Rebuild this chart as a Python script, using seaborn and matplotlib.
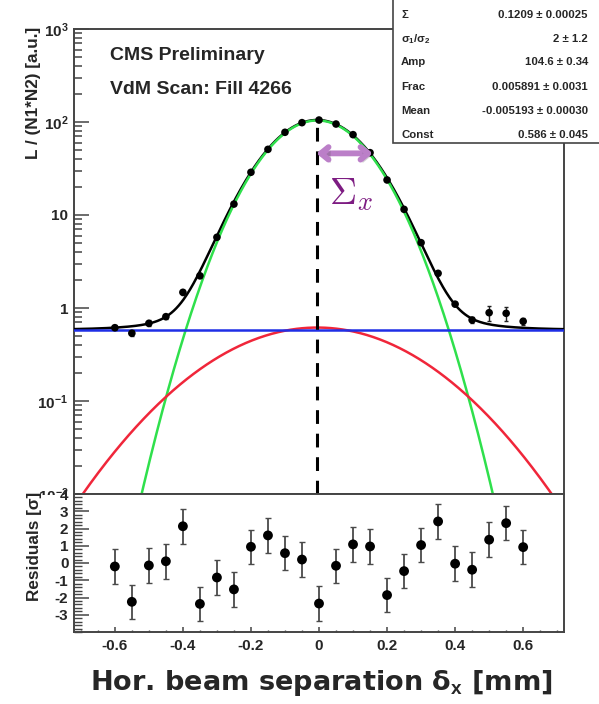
import numpy as np
import pandas as pd
import matplotlib
matplotlib.use("Agg")
import matplotlib.pyplot as plt
import seaborn as sns
from matplotlib.ticker import FixedLocator, FixedFormatter, NullFormatter, MultipleLocator, NullLocator
from matplotlib.patches import Rectangle
import matplotlib.patheffects as pe

# ---------------- data ----------------
separation = [-0.60, -0.55, -0.50, -0.45, -0.40, -0.35, -0.30, -0.25, -0.20, -0.15, -0.10, -0.05,
              0.00, 0.05, 0.10, 0.15, 0.20, 0.25, 0.30, 0.35, 0.40, 0.45, 0.50, 0.55, 0.60]
lumi = [0.614, 0.535, 0.684, 0.807, 1.475, 2.22, 5.76, 13.1, 28.8, 50.8, 77.5, 98.4,
        105.0, 95.1, 73.1, 46.8, 23.8, 11.5, 5.04, 2.36, 1.10, 0.743, 0.89, 0.877, 0.719]
lumi_err = [0.04, 0.04, 0.05, 0.05, 0.08, 0.10, 0.15, 0.25, 0.4, 0.6, 0.8, 0.9,
            1.0, 0.9, 0.8, 0.6, 0.4, 0.25, 0.15, 0.10, 0.06, 0.05, 0.16, 0.16, 0.06]
residual = [-0.20, -2.25, -0.14, 0.10, 2.13, -2.37, -0.84, -1.53, 0.94, 1.60, 0.57, 0.20,
            -2.35, -0.16, 1.08, 0.96, -1.86, -0.47, 1.04, 2.41, -0.04, -0.39, 1.35, 2.31, 0.92]
residual_err = [1.0, 1.0, 1.0, 1.0, 1.0, 1.0, 1.0, 1.0, 1.0, 1.0, 1.0, 1.0,
                1.0, 1.0, 1.0, 1.0, 1.0, 1.0, 1.0, 1.0, 1.0, 1.0, 1.0, 1.0, 1.0]

# fit result (stat box)
fit_names = ["Σ", "σ$_\\mathbf{1}$/σ$_\\mathbf{2}$", "Amp", "Frac", "Mean", "Const"]
fit_texts = ["0.1209 ± 0.00025", "2 ± 1.2", "104.6 ± 0.34", "0.005891 ± 0.0031",
             "-0.005193 ± 0.00030", "0.586 ± 0.045"]
fit_amp = 104.6
fit_frac = 0.005891
fit_mean = -0.005193
fit_const = 0.586
sigma_narrow = 0.1200
sigma_wide = 0.2400

y_ticks = [1e-2, 1e-1, 1, 10, 1e2, 1e3]
y_ticklabels = ["$\\mathbf{10^{-2}}$", "$\\mathbf{10^{-1}}$", "1", "10", "$\\mathbf{10^{2}}$", "$\\mathbf{10^{3}}$"]
x_ticks = [-0.6, -0.4, -0.2, 0, 0.2, 0.4, 0.6]
x_ticklabels = ["-0.6", "-0.4", "-0.2", "0", "0.2", "0.4", "0.6"]
r_ticks = [-3, -2, -1, 0, 1, 2, 3, 4]
r_ticklabels = ["-3", "-2", "-1", "0", "1", "2", "3", "4"]

# ---------------- style ----------------
sns.set_style("ticks")
plt.rcParams['font.family'] = ['Liberation Sans', 'DejaVu Sans']
plt.rcParams['font.weight'] = 'bold'
plt.rcParams['mathtext.fontset'] = 'custom'
plt.rcParams['mathtext.rm'] = 'Liberation Sans'
plt.rcParams['mathtext.bf'] = 'Liberation Sans:bold'
plt.rcParams['mathtext.it'] = 'Liberation Sans:italic'

W, H = 599, 704
def fx(px):
    return px / W
def fy(py):
    return 1 - py / H

fig = plt.figure(figsize=(W / 100, H / 100), dpi=100)
ax = fig.add_axes([fx(74), fy(494), fx(564) - fx(74), fy(29) - fy(494)])
axr = fig.add_axes([fx(74), fy(632), fx(564) - fx(74), fy(494) - fy(632)])

frame_col = "#444444"
for a in (ax, axr):
    for s in a.spines.values():
        s.set_color(frame_col)
        s.set_linewidth(1.4)

xmin, xmax = -0.72, 0.72

# ---------------- fit curves ----------------
xg = np.linspace(xmin, xmax, 600)
narrow = fit_amp * (1 - fit_frac) * np.exp(-(xg - fit_mean) ** 2 / (2 * sigma_narrow ** 2))
wide = fit_amp * fit_frac * np.exp(-(xg - fit_mean) ** 2 / (2 * sigma_wide ** 2))
const = np.full_like(xg, fit_const)
total = narrow + wide + const
curves = pd.DataFrame({"x": xg, "total": total, "narrow": narrow, "wide": wide, "const": const})

ax.set_yscale("log")
sns.lineplot(data=curves, x="x", y="total", ax=ax, color="black", lw=1.8, zorder=3)
sns.lineplot(data=curves, x="x", y="narrow", ax=ax, color="#2fe04c", lw=1.8, zorder=3)
sns.lineplot(data=curves, x="x", y="wide", ax=ax, color="#f0263a", lw=1.8, zorder=3)
sns.lineplot(data=curves, x="x", y="const", ax=ax, color="#1f2fe6", lw=1.8, zorder=3)

peak = fit_amp + fit_const
ax.plot([fit_mean, fit_mean], [1e-2, peak], color="black", lw=2.2, dashes=(4.5, 3.2), zorder=4)

# data points
df = pd.DataFrame({"sep": separation, "lumi": lumi, "err": lumi_err,
                   "res": residual, "rerr": residual_err})
ax.errorbar(df["sep"], df["lumi"], yerr=df["err"], fmt="none", ecolor="#222222",
            elinewidth=1.0, capsize=1.5, zorder=5)
sns.scatterplot(data=df, x="sep", y="lumi", ax=ax, color="black", s=30,
                edgecolor="none", zorder=6)

ax.set_xlim(xmin, xmax)
ax.set_ylim(1e-2, 1e3)
ax.set_xlabel("")
ax.set_ylabel("")
ax.yaxis.set_major_locator(FixedLocator(y_ticks))
ax.yaxis.set_major_formatter(FixedFormatter(y_ticklabels))
minor = [m * 10.0 ** k for k in range(-2, 3) for m in range(2, 10)]
ax.yaxis.set_minor_locator(FixedLocator(minor))
ax.yaxis.set_minor_formatter(NullFormatter())
ax.xaxis.set_major_locator(NullLocator())
ax.xaxis.set_minor_locator(NullLocator())
ax.tick_params(axis="y", which="major", direction="in", length=11, width=1.1,
               color=frame_col, labelsize=11, pad=4)
ax.tick_params(axis="y", which="minor", direction="in", length=5.5, width=1.1, color=frame_col)
ax.tick_params(axis="x", labelbottom=False)
for t in ax.get_yticklabels():
    t.set_fontweight("bold")

# Sigma_x annotation
ax.annotate("", xy=(0.158, 46), xytext=(-0.008, 46),
            arrowprops=dict(arrowstyle="<->, head_width=0.45, head_length=0.55",
                            color="#bb7fc8", lw=4.2, shrinkA=0, shrinkB=0,
                            path_effects=[pe.withSimplePatchShadow(offset=(1.5, -2.5), alpha=0.25)]),
            zorder=7)
ax.text(0.030, 16.4, r"$\Sigma_x$", color="#7d1c82", fontsize=27, math_fontfamily="cm",
        ha="left", va="center", zorder=7)

# text labels
fig.text(fx(110), fy(55), "CMS Preliminary", fontsize=14, fontweight="bold",
         ha="left", va="center")
fig.text(fx(110), fy(90), "VdM Scan: Fill 4266", fontsize=14, fontweight="bold",
         ha="left", va="center")
fig.text(fx(34), fy(27), "L / (N1*N2) [a.u.]", fontsize=12.3, fontweight="bold",
         rotation=90, ha="center", va="top")

# ---------------- residual panel ----------------
# white pad background hiding the lower part of the 10^-2 label
axr.add_patch(Rectangle((0, 0), fx(74), fy(495), transform=fig.transFigure,
                        facecolor="white", edgecolor="none", zorder=0.5, clip_on=False))
axr.errorbar(df["sep"], df["res"], yerr=df["rerr"], fmt="none", ecolor="#4a4a4a",
             elinewidth=1.3, capsize=2.2, capthick=1.0, zorder=3)
sns.scatterplot(data=df, x="sep", y="res", ax=axr, color="black", s=50,
                edgecolor="none", zorder=4)
axr.set_xlim(xmin, xmax)
axr.set_ylim(-4, 4)
axr.set_xlabel("")
axr.set_ylabel("")
axr.yaxis.set_major_locator(FixedLocator(r_ticks))
axr.yaxis.set_major_formatter(FixedFormatter(r_ticklabels))
axr.yaxis.set_minor_locator(MultipleLocator(0.2))
axr.xaxis.set_major_locator(FixedLocator(x_ticks))
axr.xaxis.set_major_formatter(FixedFormatter(x_ticklabels))
axr.xaxis.set_minor_locator(MultipleLocator(0.05))
axr.tick_params(axis="y", which="major", direction="in", length=11, width=1.1,
                color=frame_col, labelsize=11, pad=4)
axr.tick_params(axis="y", which="minor", direction="in", length=5.5, width=1.0, color=frame_col)
axr.tick_params(axis="x", which="major", direction="in", length=3.5, width=1.1,
                color=frame_col, labelsize=11, pad=5)
axr.tick_params(axis="x", which="minor", direction="in", length=1.8, width=1.0, color=frame_col)
for t in axr.get_yticklabels() + axr.get_xticklabels():
    t.set_fontweight("bold")

fig.text(fx(34), fy(492), "Residuals [σ]", fontsize=12.3, fontweight="bold",
         rotation=90, ha="center", va="top")

fig.text(fx(321), fy(683), "Hor. beam separation δ$_\\mathbf{x}$ [mm]", fontsize=19.5,
         fontweight="bold", ha="center", va="center", family=["DejaVu Sans"])

# ---------------- stat box ----------------
box = Rectangle((fx(393), fy(143)), fx(640) - fx(393), fy(-5) - fy(143),
                transform=fig.transFigure, facecolor="white", edgecolor="#444444",
                lw=1.2, zorder=10)
fig.patches.append(box)
row_y = [15, 39, 62, 87, 111, 135]
for name, val, py in zip(fit_names, fit_texts, row_y):
    fig.text(fx(401), fy(py), name, fontsize=8.2, fontweight="bold", ha="left",
             va="center", zorder=11)
    fig.text(fx(588), fy(py), val, fontsize=8.2, fontweight="bold", ha="right",
             va="center", zorder=11)

fig.savefig("out.png", dpi=100)
